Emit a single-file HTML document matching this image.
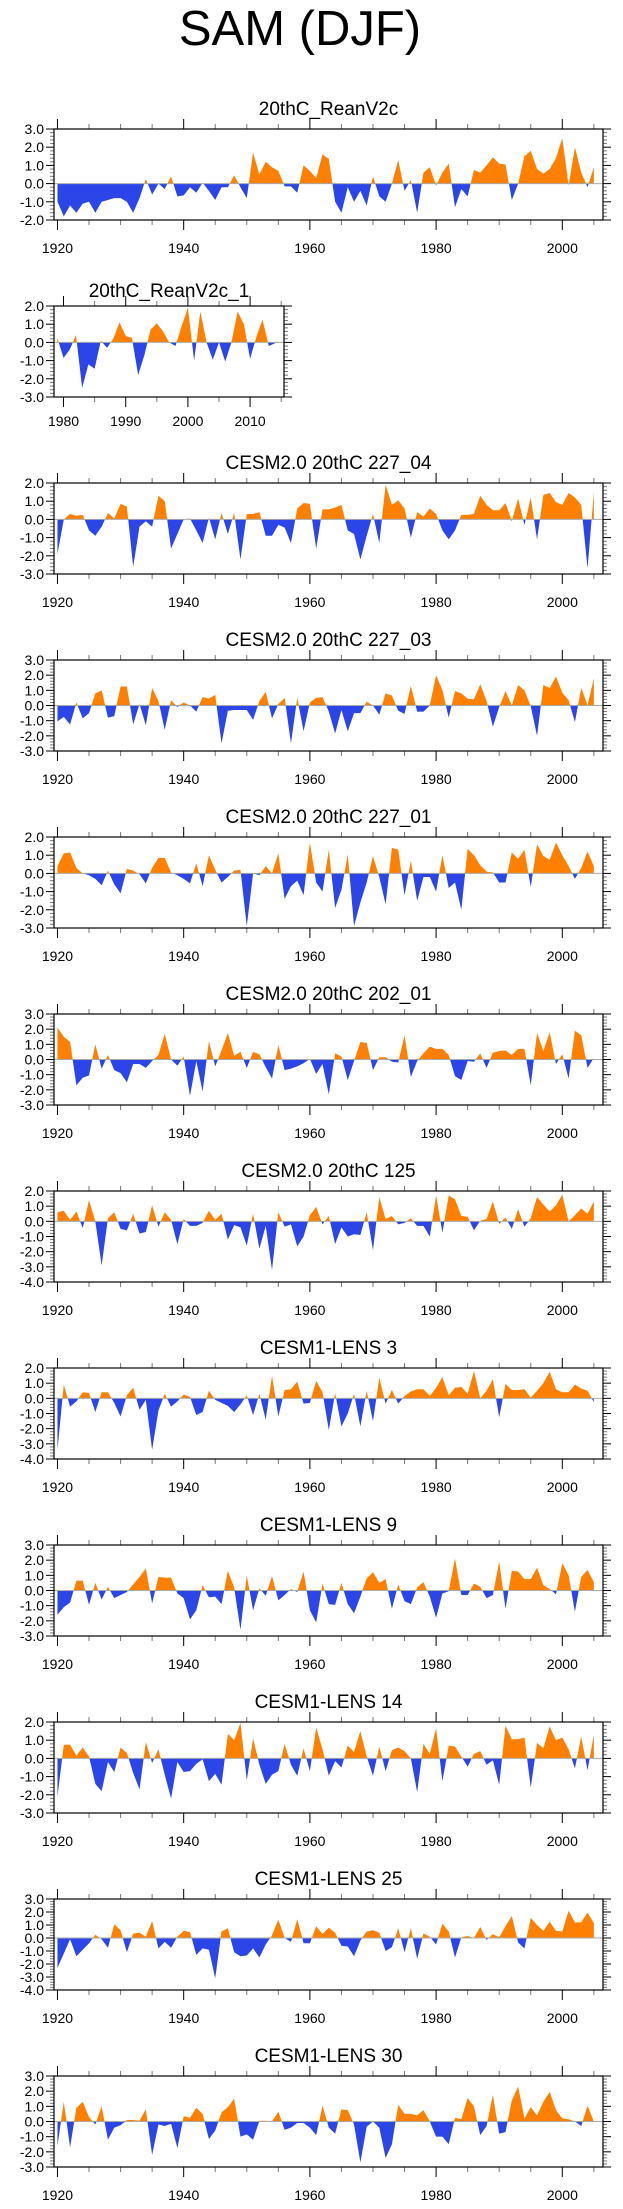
<!DOCTYPE html>
<html><head><meta charset="utf-8"><title>SAM (DJF)</title>
<style>
html,body{margin:0;padding:0;background:#fff;}
svg{display:block;font-family:"Liberation Sans",Arial,sans-serif;}
</style></head>
<body>
<svg id="fig" width="623" height="2209" viewBox="0 0 623 2209" xmlns="http://www.w3.org/2000/svg">
<text x="300" y="45" font-size="49" text-anchor="middle" fill="#000">SAM (DJF)</text>
</svg>
<script>
// ---- data (one array per panel, values for consecutive years) ----
const startMain = 1920;
const startRean1 = 1979;
const titles = ["20thC_ReanV2c","20thC_ReanV2c_1","CESM2.0 20thC 227_04","CESM2.0 20thC 227_03","CESM2.0 20thC 227_01","CESM2.0 20thC 202_01","CESM2.0 20thC 125","CESM1-LENS 3","CESM1-LENS 9","CESM1-LENS 14","CESM1-LENS 25","CESM1-LENS 30"];
const yMins = [-2,-3,-3,-3,-3,-3,-4,-4,-3,-3,-4,-3];
const yMaxs = [3,2,2,3,2,3,2,2,3,2,3,3];
const valsReanV2c = [-1.0,-1.8,-1.2,-1.6,-1.1,-1.0,-1.6,-1.0,-0.9,-0.8,
-0.8,-1.0,-1.6,-0.8,0.25,-0.6,0.0,-0.3,0.4,-0.7,
-0.65,-0.2,-0.5,0.05,-0.4,-0.9,-0.2,-0.2,0.45,-0.2,
-0.8,1.7,0.5,1.2,0.9,0.7,-0.15,-0.15,-0.5,1.0,
0.7,0.3,1.6,1.35,-1.0,-1.6,-0.2,-1.0,-0.4,-1.2,
0.4,-0.7,-1.0,0.0,1.3,-0.4,0.2,-1.6,0.6,0.9,
-0.1,0.6,1.1,-1.3,-0.3,-0.7,0.75,0.6,1.0,1.45,
1.1,1.05,-0.9,0.0,1.5,1.8,0.8,0.55,0.8,1.4,
2.5,-0.1,2.0,0.6,-0.2,0.9];
const valsReanV2c1 = [0.25,-0.85,-0.4,0.4,-2.5,-1.2,-1.45,0.1,-0.3,0.2,1.1,0.35,0.25,-1.8,-0.7,0.7,1.05,0.6,0.0,-0.2,0.9,1.9,-1.0,1.7,0.0,-0.95,0.0,-1.05,0.0,1.7,1.0,-0.9,0.3,1.25,-0.2,-0.05];
const vals227_04 = [-1.9,0.0,0.3,0.2,0.25,-0.6,-0.9,-0.4,0.35,0.05,
0.85,0.7,-2.6,-0.4,-0.1,-0.4,1.3,1.0,-1.6,-0.8,
0.0,0.05,-0.6,-1.3,0.1,-1.1,0.35,-0.8,0.35,-2.2,
0.3,0.3,0.4,-0.9,-0.9,-0.3,-0.45,-1.3,0.6,0.9,
0.85,-1.6,0.55,0.55,0.65,0.8,-0.6,-0.8,-2.2,-0.9,
0.3,-1.3,1.9,0.8,1.05,0.6,-1.0,0.4,0.15,0.6,
0.3,-0.6,-1.1,-0.6,0.25,0.25,0.3,1.3,0.8,0.5,
0.5,0.9,-0.1,1.15,-0.3,1.2,-1.1,1.35,1.45,0.95,
0.8,1.45,1.2,0.8,-2.7,1.5];
const vals227_03 = [-1.05,-0.75,-1.25,0.2,-0.85,-0.5,0.8,1.0,-0.8,-0.7,
1.25,1.25,-1.25,0.1,-1.3,1.15,0.3,-1.6,0.35,-0.1,
0.2,0.0,-0.4,0.55,0.45,0.7,-2.5,-0.35,-0.3,-0.3,
-0.3,-0.95,0.3,0.9,-0.85,0.1,0.5,-2.5,0.5,-1.7,
0.2,0.5,0.55,-0.4,-1.85,-0.3,-1.7,-0.5,-0.5,0.25,
0.0,-0.6,0.8,0.65,-0.35,-0.55,1.3,-0.4,-0.4,0.0,
2.0,1.0,-0.8,0.95,0.8,0.45,0.4,1.4,0.3,-1.4,
-0.1,0.95,0.0,1.35,1.0,-0.05,-2.0,1.35,1.15,1.9,
0.85,0.35,-1.1,1.15,0.0,1.8];
const vals227_01 = [0.4,1.1,1.15,0.3,0.0,-0.1,-0.3,-0.65,0.15,-0.6,
-1.1,0.25,0.15,-0.05,-0.55,0.3,0.85,0.85,0.05,-0.1,
-0.3,-0.55,0.55,-0.7,1.0,0.2,-0.5,-0.2,0.15,0.2,
-2.9,0.0,-0.1,0.4,0.0,1.1,-1.4,-0.7,-0.4,-1.2,
1.7,-0.5,-1.0,1.3,-1.9,-0.9,1.05,-2.9,-1.6,-0.5,
0.95,-0.2,-1.7,1.4,1.3,-1.2,0.7,-1.5,-0.2,-0.2,
-1.0,1.0,-0.8,-0.5,-2.0,1.35,1.0,0.45,0.1,0.05,
-0.5,-0.5,1.15,0.8,1.3,-0.75,1.6,0.95,0.75,1.7,
1.0,0.4,-0.3,0.3,1.2,0.4];
const vals202_01 = [2.1,1.5,1.15,-1.7,-1.2,-1.05,1.0,-0.6,0.3,-0.7,
-0.9,-1.5,-0.3,-0.3,-0.55,-0.1,0.3,1.7,0.0,-0.4,
0.2,-2.4,-0.1,-2.1,1.2,-0.45,0.6,1.75,0.25,0.5,
-0.55,0.5,0.35,-0.5,-1.25,0.95,-0.7,-0.6,-0.45,-0.25,
0.05,-0.95,-0.3,-2.3,0.4,0.2,-1.35,-0.1,1.15,1.1,
-0.7,0.15,0.15,-0.15,-0.2,1.6,-1.15,-0.1,0.4,0.85,
0.7,0.7,0.3,-1.1,-1.35,-0.1,-0.15,0.4,-0.55,0.45,
0.55,0.6,0.3,0.7,0.7,-1.7,1.75,0.55,1.8,-0.3,
0.35,-1.25,1.9,1.6,-0.55,0.1];
const vals125 = [0.6,0.7,0.1,0.65,-0.45,1.4,0.0,-2.9,0.2,0.6,
-0.5,-0.6,0.5,-0.8,-0.7,1.05,-0.35,0.6,0.1,-1.5,
0.15,-0.3,-0.3,-0.1,0.7,0.1,0.5,-1.2,-0.25,-0.4,
-1.6,0.5,-1.8,-0.3,-3.2,0.6,-0.35,-0.2,-1.65,-1.0,
0.4,0.95,-0.2,0.35,-1.5,-0.4,-1.0,-0.85,-0.9,0.6,
-1.9,1.6,0.15,0.35,-0.2,-0.1,0.2,-0.3,-0.3,-1.0,
1.7,-0.75,1.7,1.45,0.35,0.3,-0.6,0.05,0.15,1.3,
-0.15,0.25,-0.5,0.8,-0.35,0.2,1.6,1.1,0.65,1.05,
1.75,0.0,0.4,0.85,0.5,1.3];
const valsLens3 = [-3.4,0.9,-0.55,-0.2,0.4,0.35,-0.9,0.4,0.4,-0.3,
-1.2,0.2,0.7,-0.75,-0.1,-3.4,-0.8,0.3,-0.55,-0.2,
0.25,0.1,-1.1,-0.9,0.5,-0.1,-0.3,-0.5,-0.9,-0.4,
0.2,-1.1,0.3,-1.4,1.5,-1.2,0.55,0.6,1.1,-0.35,
-0.3,1.15,0.4,-2.1,0.35,-1.85,-1.0,0.3,-1.85,0.5,
-1.5,1.35,-0.35,0.55,-0.35,0.15,0.45,0.6,0.6,0.15,
0.7,1.4,0.2,0.7,0.75,0.3,1.8,0.0,0.5,1.25,
-1.25,0.95,0.55,0.55,0.6,0.05,0.5,1.0,1.75,0.6,
0.4,0.4,0.9,0.65,0.5,-0.25];
const valsLens9 = [-1.6,-1.1,-0.8,0.65,0.65,-0.95,0.5,-0.6,0.25,-0.5,
-0.3,-0.1,0.4,0.9,1.45,-0.85,0.9,0.85,0.85,-0.2,
-0.5,-1.9,-1.3,0.35,-0.45,-0.4,-0.9,1.3,0.2,-2.6,
1.0,-1.3,0.15,-0.35,0.95,-0.65,-0.3,0.1,-0.1,1.25,
-1.3,-2.1,0.45,-0.9,-0.95,0.5,-0.9,-1.5,-0.4,0.8,
1.2,0.5,0.75,-1.2,0.4,-0.7,-0.9,0.2,0.55,-0.4,
-1.8,-0.2,-0.05,2.1,-0.3,-0.3,0.45,0.25,-0.5,-0.3,
1.9,-1.2,1.3,1.25,0.75,0.75,1.5,0.35,0.1,-0.25,
1.8,1.0,-1.4,0.9,1.35,0.55];
const valsLens14 = [-2.1,0.75,0.75,0.15,0.6,0.1,-1.4,-1.8,-0.2,-0.75,
0.6,0.3,-0.8,-1.7,0.9,-0.25,0.5,-0.9,-2.2,-0.2,
-0.75,-0.7,-0.3,-0.05,-1.25,-0.85,-1.45,1.35,1.0,1.95,
-1.2,1.1,-0.35,-1.4,-0.9,-0.7,0.8,-0.35,-0.95,0.55,
-0.7,1.7,0.5,-0.95,-0.15,-0.5,0.7,0.35,1.5,0.1,
-0.95,0.65,-0.7,0.45,0.6,0.4,0.0,-1.85,0.8,0.25,
1.65,-1.25,0.7,0.65,0.1,-0.45,0.25,0.4,-0.35,-0.1,
-1.45,1.8,1.05,1.05,1.15,-1.6,0.85,0.55,1.75,1.0,
1.15,0.5,-0.55,1.2,-0.65,1.3];
const valsLens25 = [-2.3,-1.2,-0.1,-1.4,-0.9,-0.4,0.25,-0.1,-0.75,1.05,
0.6,-1.1,0.35,0.4,0.1,1.3,-0.8,-0.3,-0.75,0.1,
0.55,0.45,-1.3,-0.8,-0.9,-3.1,0.5,0.75,-1.1,-1.4,
-1.35,-0.8,-1.5,-0.5,0.2,1.4,0.0,-0.3,1.45,-0.4,
-0.4,0.9,0.3,0.8,0.4,-0.6,-0.65,-1.4,-0.2,0.5,
0.6,0.4,-1.0,-0.7,0.75,-1.1,0.75,-1.6,0.35,0.1,
-0.5,1.1,0.5,-1.5,0.05,0.15,0.0,0.85,-0.15,0.3,
0.05,0.9,1.7,-0.35,-0.8,1.55,1.0,0.55,1.25,0.55,
0.5,2.1,1.2,1.2,1.95,1.15];
const valsLens30 = [-1.6,1.3,-1.7,0.9,1.3,0.3,-0.2,1.0,-1.2,-0.4,
-0.25,0.1,0.1,0.05,0.8,-2.2,-0.2,-0.3,-0.15,-1.75,
0.35,0.25,0.9,0.5,-1.15,-0.6,0.6,0.95,1.5,-1.0,
-0.85,-1.2,0.05,0.05,0.0,0.65,-0.55,-0.4,-0.1,-0.1,
-0.4,-0.9,1.05,-0.4,-0.8,0.8,0.75,-0.2,-2.7,-0.35,
0.0,-0.4,-2.4,-1.5,1.1,0.5,0.5,0.4,0.75,0.0,
-1.0,-1.0,-1.5,0.25,0.15,1.55,1.0,-0.9,-0.3,1.75,
-0.8,-0.7,1.4,2.3,0.2,0.95,0.4,1.3,1.95,0.75,
0.2,0.15,0.0,-0.3,1.05,0.0];
const seriesList = [valsReanV2c,valsReanV2c1,vals227_04,vals227_03,vals227_01,vals202_01,vals125,valsLens3,valsLens9,valsLens14,valsLens25,valsLens30];
const mainXLabels = ["1920","1940","1960","1980","2000"];
const reanXLabels = ["1980","1990","2000","2010"];

// ---- drawing ----
const NS = "http://www.w3.org/2000/svg";
const svg = document.getElementById("fig");
const ORANGE = "#ff8000", BLUE = "#2b45e8";
function mk(parent, tag, attrs, text){
  const e = document.createElementNS(NS, tag);
  for (const k in attrs) e.setAttribute(k, attrs[k]);
  if (text !== undefined) e.textContent = text;
  parent.appendChild(e);
  return e;
}
const defs = mk(svg, "defs", {});

seriesList.forEach((vals, i) => {
  const isRean1 = (i === 1);
  const top = 129 + i * 177, H = 91, bottom = top + H;
  const left = 54, right = isRean1 ? 284 : 603;
  const xmin = isRean1 ? 1978.47 : 1919.45;
  const xmax = isRean1 ? 2015.45 : 2006.45;
  const start = isRean1 ? startRean1 : startMain;
  const ymin = yMins[i], ymax = yMaxs[i];
  const sx = yr => left + (yr - xmin) / (xmax - xmin) * (right - left);
  const sy = v => top + (ymax - v) / (ymax - ymin) * H;
  const y0 = sy(0);

  const g = mk(svg, "g", {});
  
  

  const t = mk(g, "text", {x: (left + right) / 2, y: top - (isRean1 ? 9 : 14), "font-size": 19, "text-anchor": "middle", fill: "#000"}, titles[i]);
  
  

  // clip paths
  const cpA = mk(defs, "clipPath", {id: "ca" + i});
  mk(cpA, "rect", {x: left, y: top, width: right - left, height: y0 - top});
  const cpB = mk(defs, "clipPath", {id: "cb" + i});
  mk(cpB, "rect", {x: left, y: y0, width: right - left, height: bottom - y0});

  let d = "M" + sx(start).toFixed(2) + "," + y0.toFixed(2);
  vals.forEach((v, k) => { d += " L" + sx(start + k).toFixed(2) + "," + sy(v).toFixed(2); });
  d += " L" + sx(start + vals.length - 1).toFixed(2) + "," + y0.toFixed(2) + " Z";
  const pa = mk(g, "path", {d: d, fill: ORANGE, "clip-path": "url(#ca" + i + ")"});
  
  
  const pb = mk(g, "path", {d: d, fill: BLUE, "clip-path": "url(#cb" + i + ")"});
  
  

  const zl = mk(g, "line", {x1: left, x2: right, y1: y0, y2: y0, stroke: "#aaa", "stroke-width": 1});
  
  

  // y ticks
  const nMinor = Math.round((ymax - ymin) / 0.2);
  for (let k = 0; k <= nMinor; k++) {
    const v = ymin + k * 0.2, yy = sy(v);
    const major = (k % 5 === 0);
    const len = major ? 8 : 4, col = major ? "#000" : "#777";
    mk(g, "line", {x1: left - len, x2: left, y1: yy, y2: yy, stroke: col, "stroke-width": 1});
    mk(g, "line", {x1: right, x2: right + len, y1: yy, y2: yy, stroke: col, "stroke-width": 1});
    if (major) {
      const lab = mk(g, "text", {x: 44, y: yy + 5, "font-size": 14, "text-anchor": "end", fill: "#000"}, v.toFixed(1));
      
      
    }
  }
  // x ticks
  const first = isRean1 ? 1980 : 1920, last = isRean1 ? 2015 : 2005;
  const majorStep = isRean1 ? 10 : 20;
  for (let yr = first; yr <= last; yr += 5) {
    const xx = sx(yr), major = ((yr - first) % majorStep === 0);
    const len = major ? 10 : 5, col = major ? "#000" : "#777";
    mk(g, "line", {x1: xx, x2: xx, y1: top - len, y2: top, stroke: col, "stroke-width": 1});
    mk(g, "line", {x1: xx, x2: xx, y1: bottom, y2: bottom + len, stroke: col, "stroke-width": 1});
  }
  const labs = isRean1 ? reanXLabels : mainXLabels;
  labs.forEach(l => {
    const xl = mk(g, "text", {x: sx(+l), y: top + (isRean1 ? 120 : 124), "font-size": 14, "text-anchor": "middle", fill: "#000"}, l);
    
    
  });

  const box = mk(g, "rect", {x: left, y: top, width: right - left, height: H, fill: "none", stroke: "#000", "stroke-width": 1.2});
  
  
});
</script>
</body></html>
